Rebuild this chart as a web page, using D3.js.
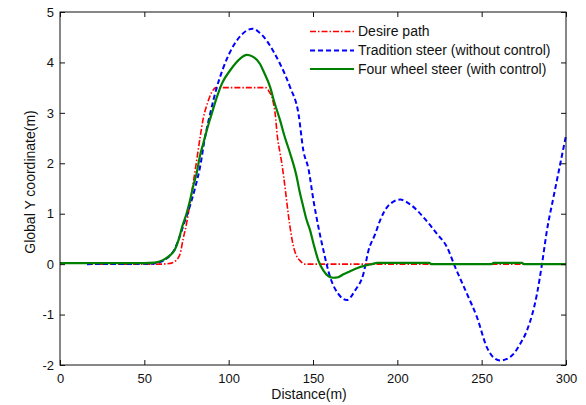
<!DOCTYPE html>
<html><head><meta charset="utf-8">
<script src="https://cdn.jsdelivr.net/npm/d3@7"></script>
<style>body{margin:0;background:#fff}svg{display:block}text{font-family:"Liberation Sans",Arial,sans-serif}</style>
</head><body>
<script>
const xTicks=[0,50,100,150,200,250,300];
const yTicks=[-2,-1,0,1,2,3,4,5];
const seriesNames=["Desire path","Tradition steer (without control)","Four wheel steer (with control)"];
const desireX=[16,60,64,66,68,70,71.2,73,75,78,81,83,85,87.5,90,92.5,122,124,126,127.5,129,130.5,131.5,133.5,135.3,137,138.5,140,142.3,145,300];
const desireY=[0,0,0.01,0.02,0.05,0.12,0.2,0.5,0.8,1.4,2.05,2.5,2.9,3.2,3.41,3.5,3.5,3.42,3.27,3.0,2.5,2.2,2.0,1.5,1.0,0.6,0.34,0.18,0.07,0,0];
const tradX=[16,55,60,64,68,71,74,77,80,83,86,89,93,96.9,102.8,108,114.3,118,122.6,126.5,130.5,136.4,141.4,144.3,147.3,150.3,156.2,160.2,165,170.1,175,179.9,182.9,186.9,189.8,194.7,201.7,208.6,215.5,223.5,229.4,234.3,241.3,247.2,253.1,257,261,265,268.9,272.5,276.9,282.8,285.8,288.7,292.6,296.6,300];
const tradY=[0,0.01,0.05,0.13,0.3,0.55,0.85,1.15,1.5,1.92,2.52,2.98,3.51,3.9,4.33,4.56,4.67,4.6,4.43,4.22,3.97,3.51,2.98,2.25,1.89,1.26,0.27,-0.26,-0.59,-0.71,-0.52,-0.19,0.27,0.6,0.87,1.16,1.28,1.16,0.93,0.6,0.34,-0.06,-0.59,-1.05,-1.65,-1.85,-1.91,-1.88,-1.78,-1.6,-1.31,-0.59,0.01,0.67,1.33,1.99,2.55];
const fourX=[0,50,56,61,65,68,70.5,72.5,75,77,79,81,83,85,87,89,91,93,96,100.8,104,107,110.7,114,118.6,121,124.6,127,130.5,133,136.4,140.4,142,144.3,146,148.3,150.5,153.2,156,159.2,162,164.9,168,172,176,180.9,185,188,219,220,256,257,274,275,300];
const fourY=[0.02,0.02,0.03,0.08,0.17,0.28,0.5,0.75,1.0,1.25,1.55,1.8,2.15,2.4,2.65,2.88,3.1,3.31,3.58,3.84,3.98,4.08,4.15,4.12,3.97,3.8,3.51,3.22,2.85,2.55,2.2,1.72,1.45,1.13,0.9,0.67,0.38,0.07,-0.12,-0.24,-0.27,-0.26,-0.2,-0.14,-0.08,-0.03,0,0.025,0.025,0,0,0.025,0.025,0,0];

const W=586,H=405,L=60,R=566,T=12,B=365;
const svg=d3.select("body").append("svg").attr("width",W).attr("height",H);
const x=d3.scaleLinear().domain([0,300]).range([L,R]);
const y=d3.scaleLinear().domain([-2,5]).range([B,T]);
const g=svg.append("g");
const styles=[
 {c:"#ff0000",w:1.6,d:"6,2,1.5,2"},
 {c:"#0000ff",w:2,d:"5,3"},
 {c:"#008000",w:2.2,d:null}
];
const data=[[desireX,desireY],[tradX,tradY],[fourX,fourY]];
const line=d3.line().x(d=>x(d[0])).y(d=>y(d[1])).curve(d3.curveMonotoneX);
data.forEach((s,i)=>{
  const pts=s[0].map((v,j)=>[v,s[1][j]]);
  g.append("path").attr("d",line(pts)).attr("fill","none").attr("stroke",styles[i].c)
   .attr("stroke-width",styles[i].w).attr("stroke-dasharray",styles[i].d);
});
svg.append("rect").attr("x",L).attr("y",T).attr("width",R-L).attr("height",B-T).attr("fill","none").attr("stroke","#111").attr("stroke-width",1);
const ax=svg.append("g").attr("transform",`translate(0,${B})`).call(d3.axisBottom(x).tickValues(xTicks).tickSizeInner(-5).tickSizeOuter(0).tickPadding(9));
const axT=svg.append("g").attr("transform",`translate(0,${T})`).call(d3.axisTop(x).tickValues(xTicks).tickSizeInner(-5).tickSizeOuter(0).tickFormat(""));
const ay=svg.append("g").attr("transform",`translate(${L},0)`).call(d3.axisLeft(y).tickValues(yTicks).tickSizeInner(-5).tickSizeOuter(0).tickPadding(6).tickFormat(d3.format("d")));
const ayR=svg.append("g").attr("transform",`translate(${R},0)`).call(d3.axisRight(y).tickValues(yTicks).tickSizeInner(-5).tickSizeOuter(0).tickFormat(""));
[ax,axT,ay,ayR].forEach(a=>{a.select(".domain").remove();a.selectAll("line").attr("stroke","#111");a.selectAll("text").attr("font-size",13).attr("fill","#111").style("font-family","'Liberation Sans',Arial,sans-serif");});
ay.selectAll("text").text(d=>d<0?"-"+Math.abs(d):d);
svg.append("text").attr("x",309).attr("y",399).attr("text-anchor","middle").attr("font-size",14).attr("fill","#111").text("Distance(m)");
svg.append("text").attr("transform",`translate(35,182) rotate(-90)`).attr("text-anchor","middle").attr("font-size",14).attr("fill","#111").text("Global Y coordinate(m)");
const lg=svg.append("g");
const ly=[31.5,50.5,69];
seriesNames.forEach((n,i)=>{
  lg.append("line").attr("x1",310).attr("x2",354).attr("y1",ly[i]).attr("y2",ly[i]).attr("stroke",styles[i].c).attr("stroke-width",styles[i].w).attr("stroke-dasharray",styles[i].d);
  lg.append("text").attr("x",358).attr("y",ly[i]+4.8).attr("font-size",14).attr("fill","#111").text(n);
});
</script>
</body></html>
